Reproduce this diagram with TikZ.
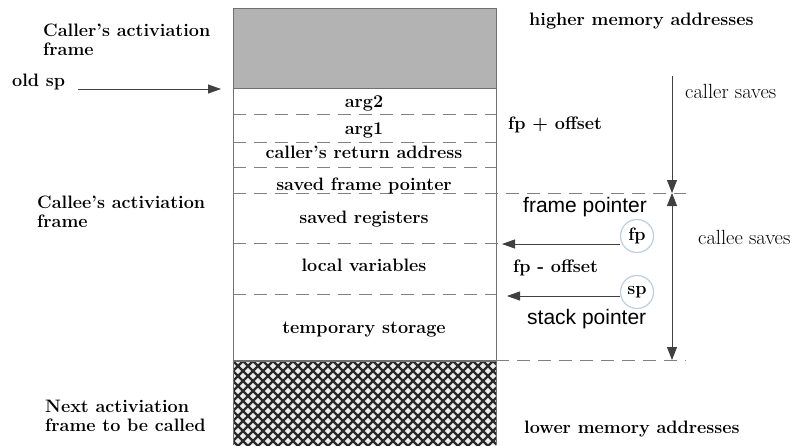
\documentclass[tikz,border=0pt]{standalone}
\usepackage{fontspec}
\newfontfamily\arialfont{Liberation Sans}
\usetikzlibrary{arrows.meta}
\definecolor{framegray}{HTML}{B3B3B3}
\definecolor{edgegray}{HTML}{707070}
\definecolor{dashgray}{HTML}{808080}
\definecolor{hatchdark}{HTML}{2A2A2A}
\definecolor{ringblue}{HTML}{BCCFE2}
\begin{document}
\begin{tikzpicture}[x=1pt,y=-1pt,
  boldtxt/.style={font=\fontsize{18}{19}\selectfont\bfseries, inner sep=0pt, anchor=base west, align=left},
  celltxt/.style={font=\fontsize{18}{19}\selectfont\bfseries, inner sep=0pt, anchor=base},
  plaintxt/.style={font=\fontsize{20.5}{22}\selectfont, inner sep=0pt, anchor=base west},
  sanstxt/.style={font=\arialfont\fontsize{21}{24}\selectfont, inner sep=0pt, anchor=base west},
  ring/.style={circle, draw=ringblue, line width=1.2pt, minimum size=33pt, inner sep=0pt,
    font=\fontsize{18}{19}\selectfont\bfseries},
  divider/.style={dashgray, line width=0.9pt, dash pattern=on 13pt off 8pt},
  ptr/.style={black!75, line width=0.8pt, -{Triangle[length=13pt, width=9pt]}},
  span/.style={black!75, line width=0.8pt},
  tip/.style={-{Triangle[length=13pt, width=10pt]}},
]
\useasboundingbox (0,0) rectangle (793,445);

% caller's frame (shaded)
\fill[framegray] (233,8) rectangle (496,88);
\draw[edgegray, line width=1pt] (233,88) -- (496,88);

% next frame (cross-hatched)
\begin{scope}
  \clip (233,361) rectangle (496,445);
  \fill[white!93!black] (233,361) rectangle (496,445);
  \foreach \k in {-100,-90,...,360} {
    \draw[hatchdark, line width=2.3pt] (233+\k,361) -- ++(100,100);
    \draw[hatchdark, line width=2.3pt] (233+\k,461) -- ++(100,-100);
  }
\end{scope}
\draw[edgegray, line width=1.2pt] (233,361) -- (496,361);

% column outline
\draw[edgegray, line width=1pt] (233,445) -- (233,8) -- (496,8) -- (496,445);

% slot dividers
\draw[divider] (233,114) -- (496,114);
\draw[divider] (233,142) -- (496,142);
\draw[divider] (233,167) -- (496,167);
\draw[divider] (233,193) -- (686,193);
\draw[divider] (233,243) -- (500,243);
\draw[divider] (233,294) -- (496,294);
\draw[divider] (496,360) -- (686,360);

% slot labels
\node[celltxt] (arg2) at (364,107) {arg2};
\node[celltxt] (arg1) at (364,134) {arg1};
\node[celltxt] (ret)  at (364,158) {caller’s return address};
\node[celltxt] (sfp)  at (364,190) {saved frame pointer};
\node[celltxt] (sreg) at (364,223) {saved registers};
\node[celltxt] (lvar) at (364,271) {local variables};
\node[celltxt] (tmp)  at (364,333) {temporary storage};

% left-hand labels (anchored on the last line's baseline)
\node[boldtxt] (callerframe) at (43,55) {Caller’s activiation\\frame};
\node[boldtxt] (oldsp) at (12,86) {old sp};
\node[boldtxt] (calleeframe) at (37,227) {Callee’s activiation\\frame};
\node[boldtxt] (nextframe) at (45,431) {Next activiation\\frame to be called};

\coordinate (oldspfrom) at (78,89);
\coordinate (oldspto) at (221,89);
\draw[ptr] (oldspfrom) -- (oldspto);

% right-hand labels
\node[boldtxt] (high) at (529,25) {higher memory addresses};
\node[boldtxt] (low) at (524,433) {lower memory addresses};
\node[boldtxt] (fpplus) at (508,129) {fp + offset};
\node[boldtxt] (fpminus) at (513,272) {fp - offset};
\node[plaintxt] (callersaves) at (685,98) {caller saves};
\node[plaintxt] (calleesaves) at (698,244) {callee saves};
\node[sanstxt] (fplabel) at (523,212) {frame pointer};
\node[sanstxt] (splabel) at (527,324) {stack pointer};

% pointer registers
\node[ring] (fp) at (637,236) {fp};
\node[ring] (sp) at (637,292) {sp};
\coordinate (fpto) at (502,244);
\coordinate (spto) at (507,296);
\draw[ptr] (fp.west |- fpto) -- (fpto);
\draw[ptr] (sp.west |- spto) -- (spto);

% save-responsibility spans
\coordinate (callertop) at (672,76);
\coordinate (split) at (672,193);
\coordinate (calleebot) at (672,360);
\draw[span, tip] (callertop) -- (split);
\draw[span, {Triangle[length=13pt, width=10pt]}-{Triangle[length=13pt, width=10pt]}] (split) -- (calleebot);
\end{tikzpicture}
\end{document}
